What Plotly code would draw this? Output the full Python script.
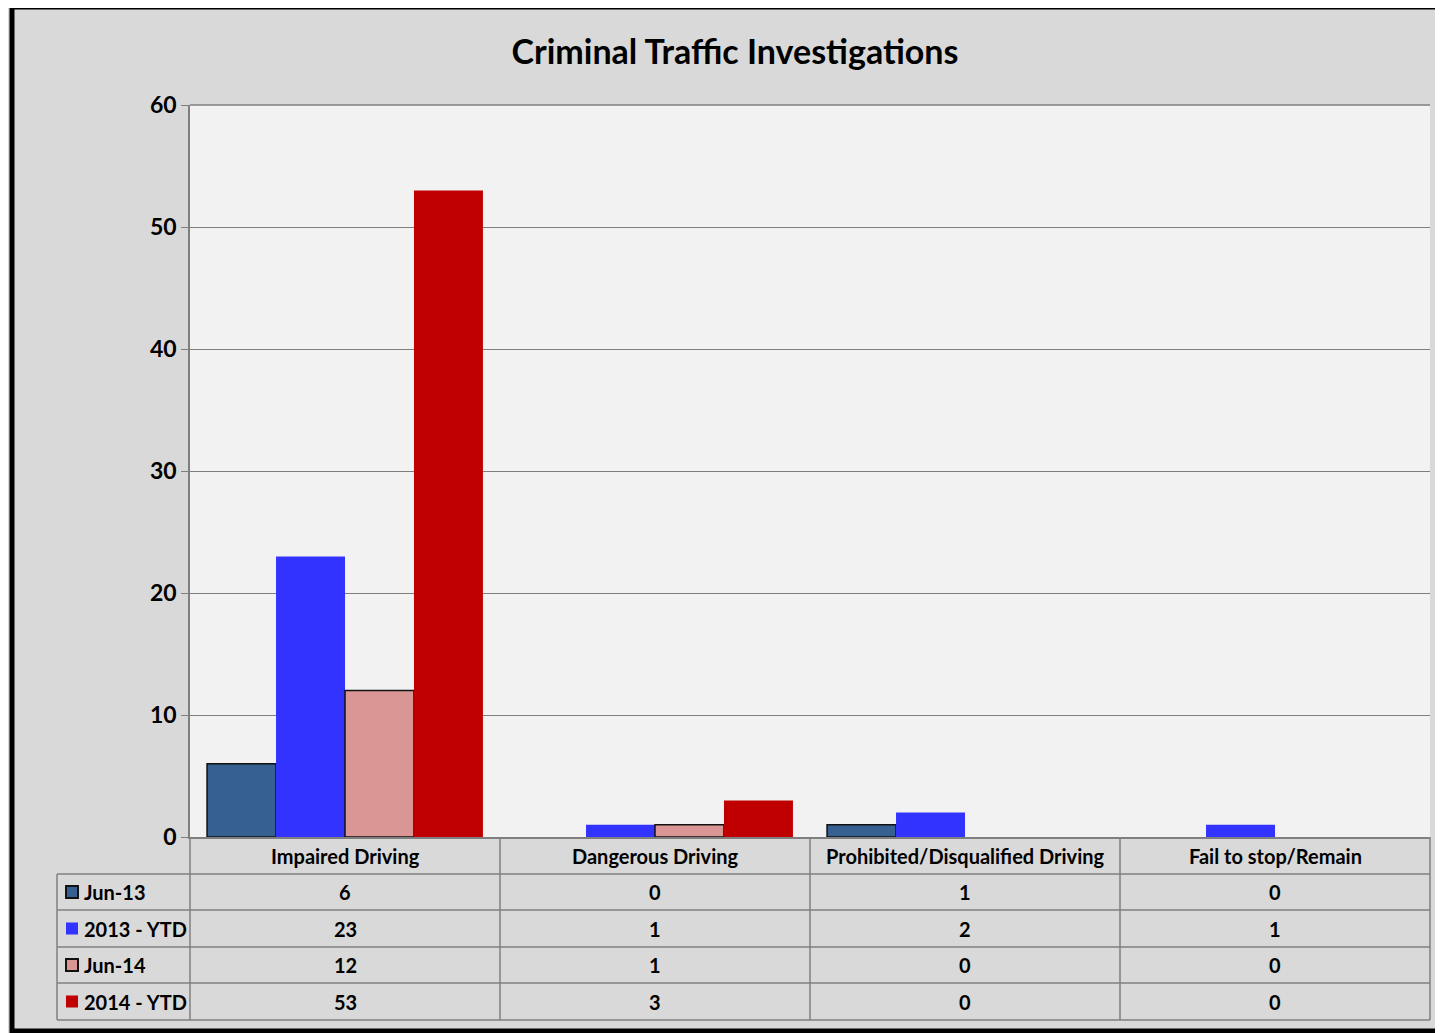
import plotly.graph_objects as go

# data
categories = ['Impaired Driving', 'Dangerous Driving', 'Prohibited/Disqualified Driving', 'Fail to stop/Remain']
series_names = ['Jun-13', '2013 - YTD', 'Jun-14', '2014 - YTD']
jun_13 = [6, 0, 1, 0]
ytd_2013 = [23, 1, 2, 1]
jun_14 = [12, 1, 0, 0]
ytd_2014 = [53, 3, 0, 0]
series_values = [jun_13, ytd_2013, jun_14, ytd_2014]
series_colors = ['#376092', '#3333ff', '#da9694', '#c00000']
series_outline = [1.5, 0, 1.5, 0]

# page has an 8px body margin, so work in figure pixels = screen pixels - 8
OFF = 8
W, H = 1443 - OFF, 1040 - OFF
L, R, T, B = 190 - OFF, 1430 - OFF, 105 - OFF, 837 - OFF   # plot area


def px(x):
    return (x - OFF - L) / (R - L)


def py(y):
    return (B - (y - OFF)) / (B - T)


FONT = 'Lato'
fig = go.Figure()

for name, vals, col, lw in zip(series_names, series_values, series_colors, series_outline):
    fig.add_trace(go.Bar(
        x=categories, y=[v if v else None for v in vals], name=name,
        marker=dict(color=col, line=dict(color='#111111', width=lw)),
    ))

shapes = []
annotations = []
grid_col = '#7f7f7f'

# outer border
shapes.append(dict(type='rect', xref='paper', yref='paper',
                   x0=px(12), x1=px(1470), y0=py(7), y1=py(1031),
                   line=dict(color='black', width=5), layer='above'))

# top gridline (value 60)
shapes.append(dict(type='line', xref='paper', yref='paper',
                   x0=0, x1=1, y0=1, y1=1, line=dict(color=grid_col, width=1.5)))

# table lines
row_y = [874, 910, 947, 983, 1020]
col_x = [190, 500, 810, 1120, 1430]
for y in row_y:
    shapes.append(dict(type='line', xref='paper', yref='paper',
                       x0=px(57), x1=px(1430), y0=py(y), y1=py(y),
                       line=dict(color=grid_col, width=1.5)))
for x in col_x:
    shapes.append(dict(type='line', xref='paper', yref='paper',
                       x0=px(x), x1=px(x), y0=py(837), y1=py(1020),
                       line=dict(color=grid_col, width=1.5)))
shapes.append(dict(type='line', xref='paper', yref='paper',
                   x0=px(57), x1=px(57), y0=py(874), y1=py(1020),
                   line=dict(color=grid_col, width=1.5)))

tfont = dict(family=FONT, size=20, color='black', weight='bold')

# header text
for i, cat in enumerate(categories):
    cx = (col_x[i] + col_x[i + 1]) / 2
    annotations.append(dict(xref='paper', yref='paper', x=px(cx), y=py(856),
                            text=cat, showarrow=False, xanchor='center', yanchor='middle',
                            font=tfont))

# rows
for r, (name, vals, col, lw) in enumerate(zip(series_names, series_values, series_colors, series_outline)):
    cy = (row_y[r] + row_y[r + 1]) / 2
    shapes.append(dict(type='rect', xref='paper', yref='paper',
                       x0=px(66), x1=px(78), y0=py(cy - 6), y1=py(cy + 6),
                       fillcolor=col, line=dict(color='#111111', width=lw * 1.3 if lw else 0)))
    annotations.append(dict(xref='paper', yref='paper', x=px(82), y=py(cy),
                            text=name, showarrow=False, xanchor='left', yanchor='middle',
                            font=tfont))
    for i, v in enumerate(vals):
        cx = (col_x[i] + col_x[i + 1]) / 2
        annotations.append(dict(xref='paper', yref='paper', x=px(cx), y=py(cy),
                                text=str(v), showarrow=False, xanchor='center', yanchor='middle',
                                font=tfont))

fig.update_layout(
    width=W, height=H,
    margin=dict(l=L, r=W - R, t=T, b=H - B, pad=0),
    paper_bgcolor='#d9d9d9', plot_bgcolor='#f2f2f2',
    barmode='group', bargap=0.11, bargroupgap=0,
    showlegend=False,
    title=dict(text='<b>Criminal Traffic Investigations</b>', x=px(735), xref='paper',
               y=1 - (52 - OFF) / H, yanchor='middle', xanchor='center',
               font=dict(family=FONT, size=34, color='black')),
    xaxis=dict(showticklabels=False, showgrid=False, showline=True, linecolor=grid_col,
               linewidth=1.5, ticks='', range=[-0.5, 3.5], fixedrange=True),
    yaxis=dict(range=[0, 60], dtick=10, showgrid=True, gridcolor=grid_col, gridwidth=1,
               showline=True, linecolor=grid_col, linewidth=1.5, ticks='outside',
               ticklen=7, tickcolor=grid_col, zeroline=False,
               tickfont=dict(family=FONT, size=23, color='black', weight='bold')),
    shapes=shapes, annotations=annotations,
)

# the figure runs past the window edge like the original; hide scrollbars
fig.write_html('out.html', config={'displayModeBar': False},
               post_script="document.documentElement.style.overflow='hidden';"
                           "document.body.style.overflow='hidden';")
